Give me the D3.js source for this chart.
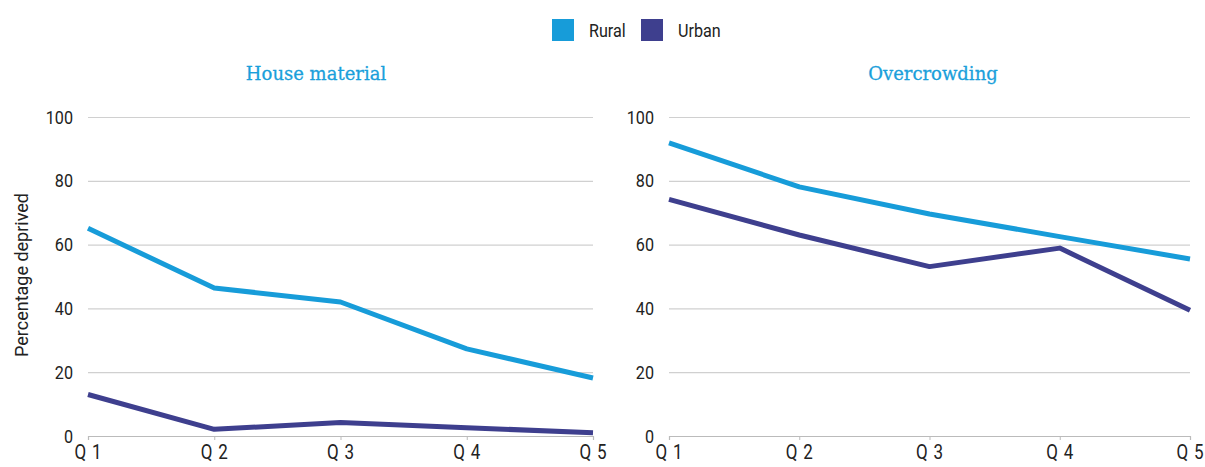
<!DOCTYPE html>
<meta charset="utf-8">
<script src="https://d3js.org/d3.v7.min.js"></script>
<style>
  body { margin: 0; background: #fff; }
  .tick text { font-family: "Roboto", sans-serif; font-size: 19px; fill: #222; }
</style>
<div id="chart"></div>
<script>
    // data
    const quintiles = ["Q 1", "Q 2", "Q 3", "Q 4", "Q 5"];
    const seriesNames = ["Rural", "Urban"];
    const houseRural = [65.1, 46.4, 42.0, 27.3, 18.2];
    const houseUrban = [13.0, 2.1, 4.2, 2.6, 1.0];
    const crowdRural = [91.9, 78.1, 69.6, 62.5, 55.5];
    const crowdUrban = [74.2, 63.0, 53.1, 58.9, 39.4];
    const yTicks = [0, 20, 40, 60, 80, 100];

    const colors = { Rural: "#179cd9", Urban: "#3e3f8e" };
    const narrow = 0.85; // fake a condensed face

    const W = 1205, H = 467;
    const svg = d3.select("#chart").append("svg")
        .attr("width", W).attr("height", H);

    const y = d3.scaleLinear().domain([0, 100]).range([436, 117]);

    const panels = [
        { title: "House material", x0: 88, x1: 593, titleX: 316, rural: houseRural, urban: houseUrban, ylabel: true },
        { title: "Overcrowding", x0: 669, x1: 1190, titleX: 933, rural: crowdRural, urban: crowdUrban, ylabel: false }
    ];

    panels.forEach(p => {
        const x = d3.scalePoint().domain(quintiles).range([p.x0, p.x1]);
        const g = svg.append("g");

        // y axis with gridlines
        const yAxis = g.append("g")
            .attr("transform", `translate(${p.x0},0)`)
            .call(d3.axisLeft(y).tickValues(yTicks).tickSize(-(p.x1 - p.x0)).tickPadding(14));
        yAxis.select(".domain").remove();
        yAxis.selectAll(".tick line").attr("stroke", "#d0d0d0").attr("stroke-width", 1.2);
        yAxis.selectAll(".tick text")
            .attr("x", -15 / narrow)
            .attr("transform", `scale(${narrow},1)`);

        // x axis
        const xAxis = g.append("g")
            .attr("transform", `translate(0,${y(0)})`)
            .call(d3.axisBottom(x).tickSize(4).tickPadding(5));
        xAxis.select(".domain").attr("stroke", "#bbbbbb").attr("stroke-width", 1.2);
        xAxis.selectAll(".tick line").attr("stroke", "#bbbbbb");
        xAxis.selectAll(".tick text")
            .style("font-size", "20px")
            .attr("letter-spacing", 1)
            .attr("transform", `scale(${narrow},1)`);

        const line = d3.line()
            .x((d, i) => x(quintiles[i]))
            .y(d => y(d));

        [["Rural", p.rural], ["Urban", p.urban]].forEach(([name, vals]) => {
            g.append("path")
                .datum(vals)
                .attr("fill", "none")
                .attr("stroke", colors[name])
                .attr("stroke-width", 5)
                .attr("stroke-linejoin", "round")
                .attr("d", line);
        });

        // panel title
        g.append("text")
            .attr("x", p.titleX).attr("y", 80)
            .attr("text-anchor", "middle")
            .attr("font-family", "DejaVu Serif, serif")
            .attr("font-size", 18)
            .attr("fill", "#1a9fdb")
            .attr("stroke", "#1a9fdb")
            .attr("stroke-width", 0.3)
            .text(p.title);

        if (p.ylabel) {
            g.append("text")
                .attr("transform", "translate(28,275) rotate(-90)")
                .attr("text-anchor", "middle")
                .attr("font-family", "Roboto, sans-serif")
                .attr("font-size", 18)
                .attr("fill", "#222")
                .text("Percentage deprived");
        }
    });

    // legend
    const legendX = [552, 641];
    seriesNames.forEach((name, i) => {
        svg.append("rect")
            .attr("x", legendX[i]).attr("y", 19)
            .attr("width", 22).attr("height", 22)
            .attr("fill", colors[name]);
        svg.append("text")
            .attr("transform", `translate(${legendX[i] + 37},37) scale(${narrow},1)`)
            .attr("font-family", "Roboto, sans-serif")
            .attr("font-size", 19)
            .attr("fill", "#222")
            .text(name);
    });
</script>
